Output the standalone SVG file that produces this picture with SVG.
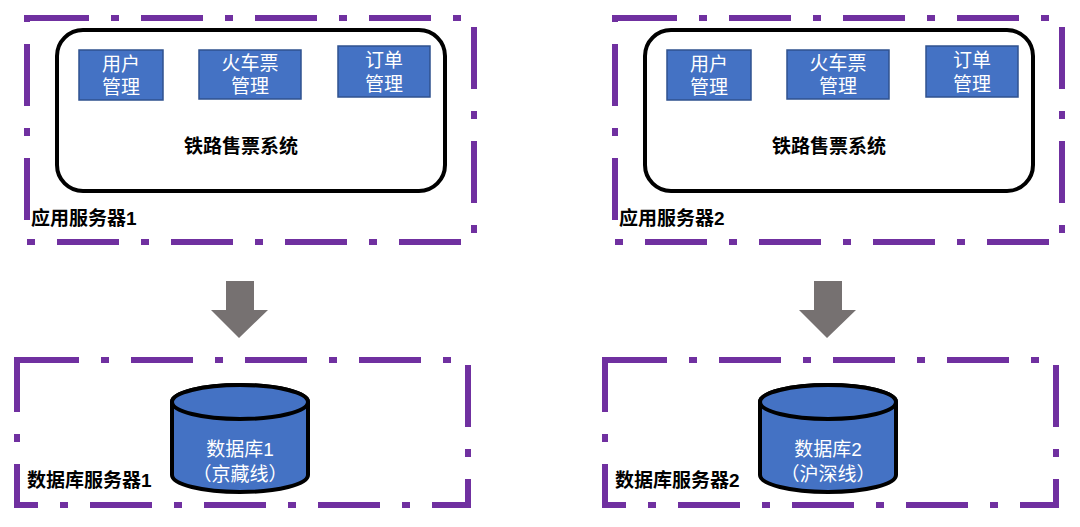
<svg xmlns="http://www.w3.org/2000/svg" width="1080" height="527" viewBox="0 0 1080 527">
<style>
.dash{fill:none;stroke:#7030A0;stroke-width:6;stroke-dasharray:62 22 8 22}
.sys{fill:#fff;stroke:#000;stroke-width:4}
.mod{fill:#4472C4;stroke:#2F528F;stroke-width:1.5}
.wt{fill:#fff;font-family:"Liberation Sans","Noto Sans CJK SC",sans-serif;font-size:19px;text-anchor:middle}
.bt{fill:#000;font-family:"Liberation Sans","Noto Sans CJK SC",sans-serif;font-size:19px;font-weight:bold}
.arr{fill:#767171}
.cyl{fill:#4472C4;stroke:#000;stroke-width:4}
</style>
<rect width="1080" height="527" fill="#fff"/>
<g id="connectors">
<polygon class="arr" points="226,281 254,281 254,310 268,310 239,338 211,310 226,310"/>
<polygon class="arr" points="814,281 842,281 842,310 856,310 827,338 799,310 814,310"/>
</g>
<g id="app1">
<rect class="dash" x="27" y="18" width="447" height="224"/>
<rect class="sys" x="57" y="30" width="388" height="161" rx="26"/>
<text class="bt" x="241" y="153" text-anchor="middle">铁路售票系统</text>
<text class="bt" x="31" y="225">应用服务器1</text>
<g id="m1"><rect class="mod" x="79" y="50" width="84" height="50"/><text class="wt" x="121" y="71">用户</text><text class="wt" x="121" y="94">管理</text></g>
<g id="m2"><rect class="mod" x="199" y="50" width="102" height="49"/><text class="wt" x="250" y="70">火车票</text><text class="wt" x="250" y="93">管理</text></g>
<g id="m3"><rect class="mod" x="338" y="46" width="92" height="51"/><text class="wt" x="384" y="67">订单</text><text class="wt" x="384" y="91">管理</text></g>
</g>
<g id="app2">
<rect class="dash" x="615" y="18" width="447" height="224"/>
<rect class="sys" x="645" y="30" width="388" height="161" rx="26"/>
<text class="bt" x="829" y="153" text-anchor="middle">铁路售票系统</text>
<text class="bt" x="619" y="225">应用服务器2</text>
<g id="m4"><rect class="mod" x="667" y="50" width="84" height="50"/><text class="wt" x="709" y="71">用户</text><text class="wt" x="709" y="94">管理</text></g>
<g id="m5"><rect class="mod" x="787" y="50" width="102" height="49"/><text class="wt" x="838" y="70">火车票</text><text class="wt" x="838" y="93">管理</text></g>
<g id="m6"><rect class="mod" x="926" y="46" width="92" height="51"/><text class="wt" x="972" y="67">订单</text><text class="wt" x="972" y="91">管理</text></g>
</g>
<g id="db1">
<rect class="dash" x="17" y="360" width="451" height="145"/>
<path class="cyl" d="M172,402 L172,475 A68,17 0 0 0 308,475 L308,402 A68,17 0 0 0 172,402 Z"/>
<ellipse class="cyl" cx="240" cy="402" rx="68" ry="17"/>
<text class="wt" x="240" y="456">数据库1</text>
<text class="wt" x="240" y="481">（京藏线）</text>
<text class="bt" x="27" y="487">数据库服务器1</text>
</g>
<g id="db2">
<rect class="dash" x="605" y="360" width="451" height="145"/>
<path class="cyl" d="M760,402 L760,475 A68,17 0 0 0 896,475 L896,402 A68,17 0 0 0 760,402 Z"/>
<ellipse class="cyl" cx="828" cy="402" rx="68" ry="17"/>
<text class="wt" x="828" y="456">数据库2</text>
<text class="wt" x="828" y="481">（沪深线）</text>
<text class="bt" x="615" y="487">数据库服务器2</text>
</g>
</svg>
